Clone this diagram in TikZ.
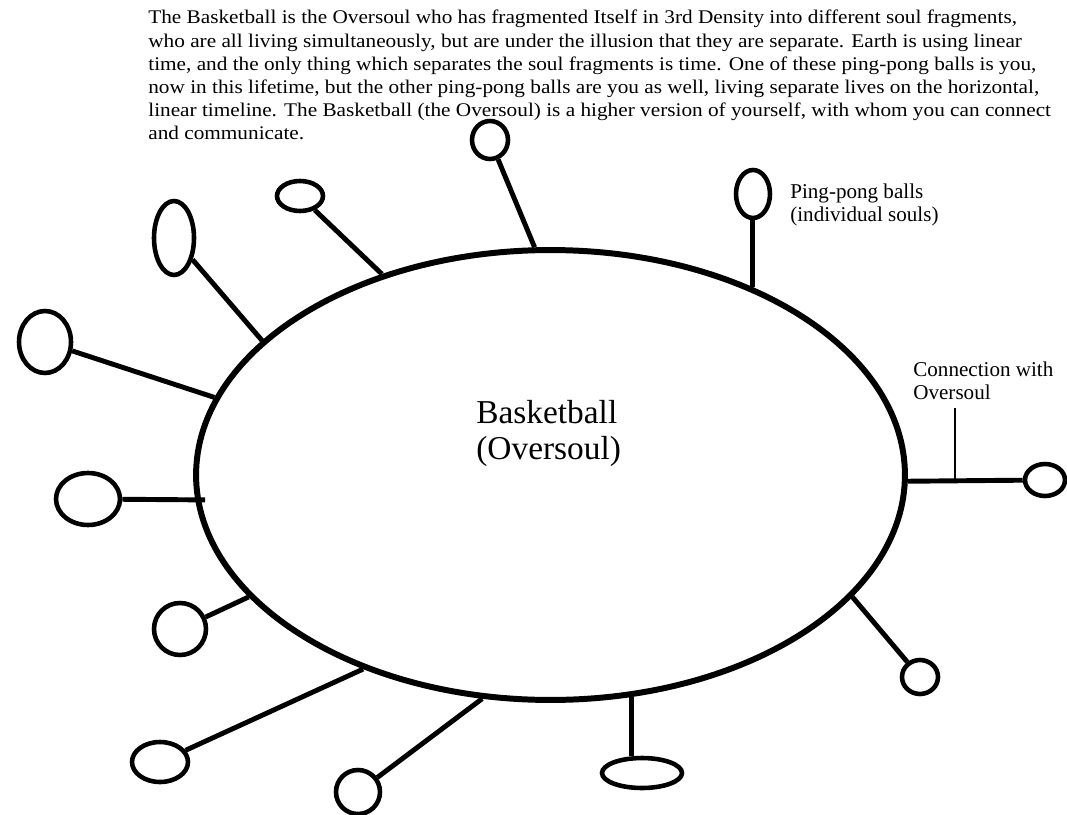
\documentclass[tikz,border=0pt]{standalone}
\usepackage{fontspec}
\setmainfont{Liberation Serif}
\newfontfamily\captionfont[FakeStretch=1.10]{Liberation Serif}
\usetikzlibrary{shapes.geometric,calc}

\begin{document}
\begin{tikzpicture}[x=0.02cm, y=-0.02cm,
  every node/.style={inner sep=0pt},
  ball/.style={draw, ellipse, line width=2.6pt},
  stick/.style={line width=2.8pt},
  note/.style={font=\fontsize{12}{13}\selectfont, align=left, anchor=north west}]
  \useasboundingbox (0,0) rectangle (1067,814);
  % caption
  \node[font=\captionfont\fontsize{11}{13.2}\selectfont, align=left, anchor=north west] (caption) at (148,10) {The Basketball is the Oversoul who has fragmented Itself in 3rd Density into different soul fragments,\\who are all living simultaneously, but are under the illusion that they are separate. Earth is using linear\\time, and the only thing which separates the soul fragments is time. One of these ping-pong balls is you,\\now in this lifetime, but the other ping-pong balls are you as well, living separate lives on the horizontal,\\linear timeline. The Basketball (the Oversoul) is a higher version of yourself, with whom you can connect\\and communicate.};
  % oversoul
  \node[draw, ellipse, line width=3.4pt, minimum width=14.18cm, minimum height=9cm] (basket) at (550.5,475) {};
  \node[font=\fontsize{19}{20.5}\selectfont, align=left, anchor=north west] (baskettext) at (476,400) {Basketball\\(Oversoul)};
  % ping-pong balls
  \node[ball, minimum width=0.72cm, minimum height=0.76cm] (ball1) at (490,140) {};
  \node[ball, minimum width=0.92cm, minimum height=0.60cm] (ball2) at (300,196) {};
  \node[ball, minimum width=0.80cm, minimum height=1.48cm] (ball3) at (174,238) {};
  \node[ball, minimum width=1.04cm, minimum height=1.24cm] (ball4) at (45,342) {};
  \node[ball, minimum width=1.28cm, minimum height=1.04cm] (ball5) at (88,499) {};
  \node[ball, minimum width=1.04cm, minimum height=1.04cm] (ball6) at (180,629) {};
  \node[ball, minimum width=1.12cm, minimum height=0.80cm] (ball7) at (160,762) {};
  \node[ball, minimum width=0.88cm, minimum height=0.88cm] (ball8) at (358,792) {};
  \node[ball, minimum width=1.60cm, minimum height=0.60cm] (ball9) at (642,773) {};
  \node[ball, minimum width=0.72cm, minimum height=0.68cm] (ball10) at (920,677) {};
  \node[ball, minimum width=0.80cm, minimum height=0.64cm] (ball11) at (1045,480) {};
  \node[ball, minimum width=0.68cm, minimum height=0.96cm] (ball12) at (753,194) {};
  % sticks
  \draw[stick] (ball1) -- (basket.94);
  \draw[stick] (ball2) -- (basket.130);
  \draw[stick] (ball3) -- (basket.155);
  \draw[stick] (ball4) -- (basket.167.5);
  \draw[stick, shorten >=-0.2cm] (ball5) -- (basket.184);
  \draw[stick] (ball6) -- (basket.202);
  \draw[stick] (ball7) -- (basket.226);
  \draw[stick] (ball8) -- (basket.253);
  \draw[stick] (basket.290.7) -- (basket.290.7 |- ball9.north);
  \draw[stick] (ball10) -- (basket.338);
  \draw[stick] (ball11) -- (basket.359);
  \draw[stick] (basket.43.6) -- (basket.43.6 |- ball12.south);
  % labels
  \node[note] (pplabel) at (790,184) {Ping-pong balls\\(individual souls)};
  \node[note] (connlabel) at (913,362) {Connection with\\Oversoul};
  \coordinate (connpt) at (955,479);
  \draw[line width=0.8pt, shorten <=0.15cm] (connlabel.south -| connpt) -- (connpt);
\end{tikzpicture}
\end{document}
